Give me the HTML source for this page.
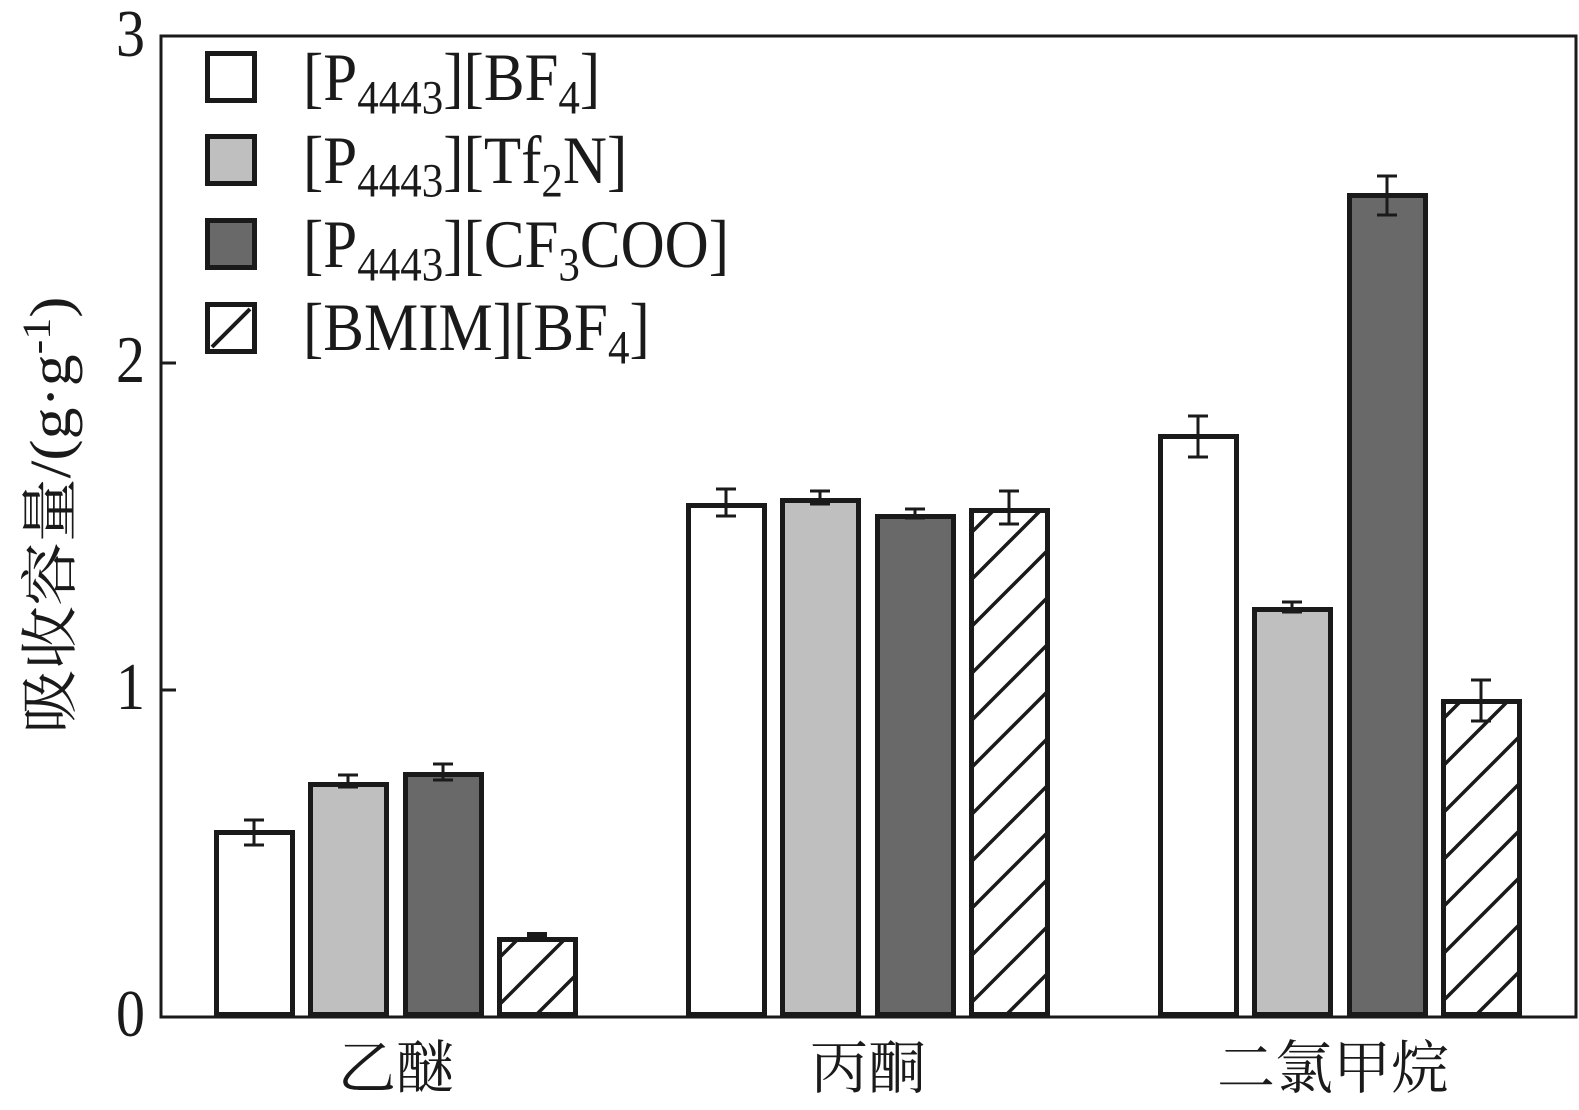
<!DOCTYPE html>
<html><head><meta charset="utf-8"><style>
html,body{margin:0;padding:0;background:#fff;}
svg{display:block;}
text{font-family:"Liberation Serif","Noto Serif CJK SC",serif;fill:#1a1a1a;}
</style></head><body>
<svg width="1579" height="1110" viewBox="0 0 1579 1110" xmlns="http://www.w3.org/2000/svg">
<defs>
<pattern id="h" patternUnits="userSpaceOnUse" width="47" height="47">
<line x1="-5" y1="52" x2="52" y2="-5" stroke="#1a1a1a" stroke-width="3.5"/>
<line x1="-10" y1="10" x2="10" y2="-10" stroke="#1a1a1a" stroke-width="3.5"/>
<line x1="37" y1="57" x2="57" y2="37" stroke="#1a1a1a" stroke-width="3.5"/>
</pattern>
</defs>
<g stroke="#1a1a1a" fill="none">
<rect x="161" y="36" width="1415" height="981" stroke-width="3"/>
<line x1="161" y1="690" x2="176" y2="690" stroke-width="3"/>
<line x1="161" y1="363" x2="176" y2="363" stroke-width="3"/>
</g>
<g font-size="58" text-anchor="end">
<text transform="translate(145,1036) scale(1,1.15)">0</text>
<text transform="translate(145,709) scale(1,1.15)">1</text>
<text transform="translate(145,382) scale(1,1.15)">2</text>
<text transform="translate(145,56) scale(1,1.15)">3</text>
</g>
<g stroke="#1a1a1a" stroke-width="5">
<rect x="216.5" y="832.5" width="76" height="182" fill="#fff"/>
<rect x="310.5" y="784.5" width="76" height="230" fill="#bfbfbf"/>
<rect x="405.5" y="774.5" width="76" height="240" fill="#696969"/>
<rect x="499.5" y="939.5" width="76" height="75" fill="url(#h)"/>
<rect x="688.5" y="505.5" width="76" height="509" fill="#fff"/>
<rect x="782.5" y="500.5" width="76" height="514" fill="#bfbfbf"/>
<rect x="877.5" y="516.5" width="76" height="498" fill="#696969"/>
<rect x="971.5" y="510.5" width="76" height="504" fill="url(#h)"/>
<rect x="1160.5" y="436.5" width="76" height="578" fill="#fff"/>
<rect x="1254.5" y="609.5" width="76" height="405" fill="#bfbfbf"/>
<rect x="1349.5" y="195.5" width="76" height="819" fill="#696969"/>
<rect x="1443.5" y="701.5" width="76" height="313" fill="url(#h)"/>
</g>
<g stroke="#1a1a1a" stroke-width="3" fill="none">
<path d="M254 820V845M244 820H264M244 845H264"/>
<path d="M348 775V787M338 775H358M338 787H358"/>
<path d="M443 764V780M433 764H453M433 780H453"/>
<path d="M537 934V938M527 934H547M527 938H547" stroke-width="4"/>
<path d="M726 489V516M716 489H736M716 516H736"/>
<path d="M820 491V504M810 491H830M810 504H830"/>
<path d="M915 509V518M905 509H925M905 518H925"/>
<path d="M1009 491V524M999 491H1019M999 524H1019"/>
<path d="M1198 416V457M1188 416H1208M1188 457H1208"/>
<path d="M1292 602V612M1282 602H1302M1282 612H1302"/>
<path d="M1387 176V215M1377 176H1397M1377 215H1397"/>
<path d="M1481 680V721M1471 680H1491M1471 721H1491"/>
</g>
<g stroke="#1a1a1a" stroke-width="5">
<rect x="207.5" y="53.5" width="47" height="47" fill="#fff"/>
<rect x="207.5" y="136.5" width="47" height="47" fill="#bfbfbf"/>
<rect x="207.5" y="220.5" width="47" height="47" fill="#696969"/>
<rect x="207.5" y="304.5" width="47" height="47" fill="#fff"/>
</g>
<line x1="212" y1="347" x2="250" y2="309" stroke="#1a1a1a" stroke-width="4"/>
<g font-size="61">
<text transform="translate(303,100) scale(1,1.12)">[P<tspan font-size="43" dy="12">4443</tspan><tspan dy="-12">][BF</tspan><tspan font-size="43" dy="12">4</tspan><tspan dy="-12">]</tspan></text>
<text transform="translate(303,183) scale(1,1.12)">[P<tspan font-size="43" dy="12">4443</tspan><tspan dy="-12">][Tf</tspan><tspan font-size="43" dy="12">2</tspan><tspan dy="-12">N]</tspan></text>
<text transform="translate(303,267) scale(1,1.12)">[P<tspan font-size="43" dy="12">4443</tspan><tspan dy="-12">][CF</tspan><tspan font-size="43" dy="12">3</tspan><tspan dy="-12">COO]</tspan></text>
<text transform="translate(303,350) scale(1,1.12)">[BMIM][BF<tspan font-size="43" dy="12">4</tspan><tspan dy="-12">]</tspan></text>
</g>
<g font-size="58" text-anchor="middle">
<text x="396" y="1088">乙醚</text>
<text x="868" y="1088">丙酮</text>
<text x="1333" y="1088">二氯甲烷</text>
</g>
<text transform="translate(70,515) rotate(-90) scale(1.1,1)" font-size="58" text-anchor="middle">吸收容量/(g·g<tspan font-size="40" dy="-20">-1</tspan><tspan dy="20">)</tspan></text>
</svg>
</body></html>
